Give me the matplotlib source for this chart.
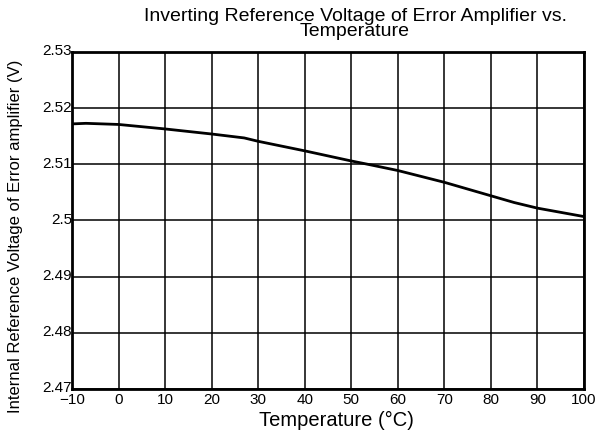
import matplotlib
matplotlib.use('Agg')
import matplotlib.pyplot as plt
import matplotlib.transforms as mtransforms
import numpy as np

plt.rcParams['font.family'] = ['Liberation Sans', 'DejaVu Sans']

temps = [-10, -7, 0, 10, 20, 27, 30, 40, 50, 53.6, 60, 70, 80, 85, 90, 100]
vref = [2.5172, 2.5173, 2.5171, 2.5163, 2.5154, 2.5147, 2.5141, 2.5124,
        2.5106, 2.5100, 2.5089, 2.5068, 2.5044, 2.5032, 2.5022, 2.5007]

x_ticks = [-10, 0, 10, 20, 30, 40, 50, 60, 70, 80, 90, 100]
y_ticks = [2.47, 2.48, 2.49, 2.5, 2.51, 2.52, 2.53]
y_labels = ['2.47', '2.48', '2.49', '2.5', '2.51', '2.52', '2.53']

fig = plt.figure(figsize=(6.14, 4.37), dpi=100)
ax = fig.add_axes([72/614, 1 - 389/437, (584 - 72)/614, (389 - 52)/437])

ax.plot(temps, vref, color='black', linewidth=2)

ax.set_xlim(-10, 100)
ax.set_ylim(2.47, 2.53)
ax.set_xticks(x_ticks)
ax.set_yticks(y_ticks)
ax.set_yticklabels(y_labels)
ax.tick_params(length=0, labelsize=11)
ax.tick_params(axis='x', pad=3)
ax.tick_params(axis='y', pad=0)
ax.grid(True, color='black', linewidth=1.1)
for s in ax.spines.values():
    s.set_linewidth(2)

# y labels sit a touch above their grid lines in the reference
shift = mtransforms.ScaledTranslation(0, 2/100, fig.dpi_scale_trans)
for lbl in ax.get_yticklabels():
    lbl.set_transform(lbl.get_transform() + shift)

fig.text(336/614, 1 - 420/437, 'Temperature (°C)', ha='center', va='center', fontsize=14.5)
fig.text(16/614, 1 - 236/437, 'Internal Reference Voltage of Error amplifier (V)',
         ha='center', va='center', rotation=90, fontsize=12)
fig.text(355/614, 1 - 24/437, 'Inverting Reference Voltage of Error Amplifier vs.\nTemperature',
         ha='center', va='center', fontsize=14, linespacing=0.85)

fig.savefig('out.png', dpi=100)
